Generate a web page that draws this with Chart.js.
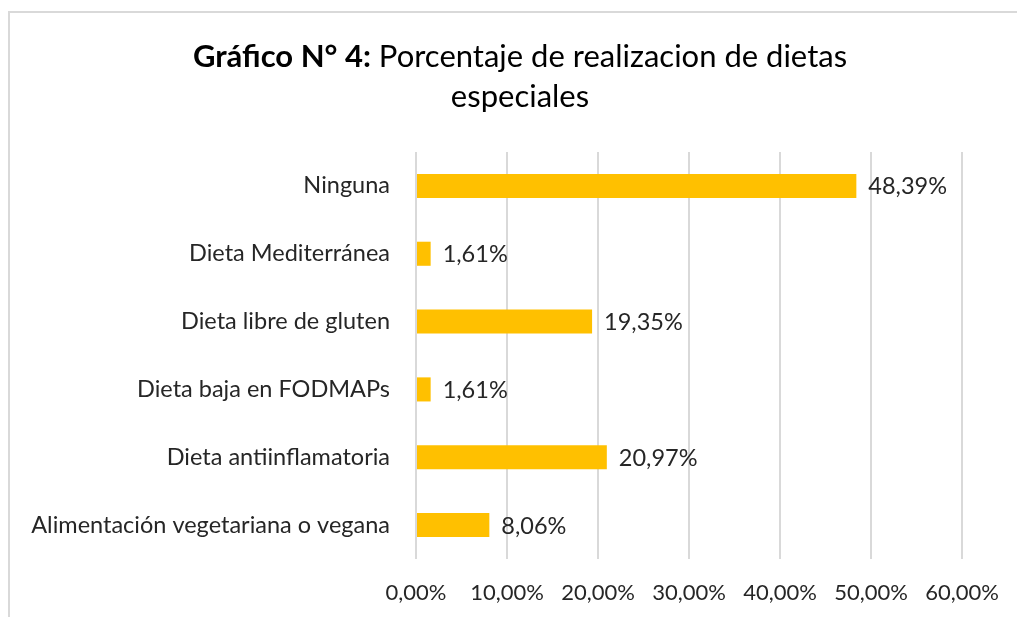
<!DOCTYPE html>
<html>
<head>
<meta charset="utf-8">
<script src="https://cdn.jsdelivr.net/npm/chart.js@4.4.0/dist/chart.umd.min.js"></script>
<style>
    body { margin: 0; background: #fff; overflow: hidden; }
    #wrap { position: relative; width: 1017px; height: 617px; }
</style>
</head>
<body>
<div id="wrap"><canvas id="dietChart" width="1017" height="617"></canvas></div>
<script>
// Data
const categories = [
    'Ninguna',
    'Dieta Mediterránea',
    'Dieta libre de gluten',
    'Dieta baja en FODMAPs',
    'Dieta antiinflamatoria',
    'Alimentación vegetariana o vegana'
];
const percentages = [48.39, 1.61, 19.35, 1.61, 20.97, 8.06];
const xTicks = [0, 10, 20, 30, 40, 50, 60];

const titleBold = 'Gráfico N° 4:';
const titleRest = ' Porcentaje de realizacion de dietas';
const titleLine2 = 'especiales';

const FONT = 'Lato, "Open Sans", sans-serif';
const TEXT_COLOR = '#262626';

function fmtPct(v) {
    return v.toFixed(2).replace('.', ',') + '%';
}

// Border around the chart + two-weight title
const frameAndTitle = {
    id: 'frameAndTitle',
    beforeDraw(chart) {
        const ctx = chart.ctx;
        ctx.save();
        ctx.strokeStyle = '#d9d9d9';
        ctx.lineWidth = 2;
        ctx.beginPath();
        ctx.moveTo(9, 640);
        ctx.lineTo(9, 12);
        ctx.lineTo(1040, 12);
        ctx.stroke();

        ctx.fillStyle = '#000';
        ctx.textBaseline = 'middle';
        ctx.textAlign = 'left';
        const size = 31;
        ctx.font = 'bold ' + size + 'px ' + FONT;
        const wBold = ctx.measureText(titleBold).width;
        ctx.font = size + 'px ' + FONT;
        const wRest = ctx.measureText(titleRest).width;
        const cx = 520;
        let x = cx - (wBold + wRest) / 2;
        ctx.font = 'bold ' + size + 'px ' + FONT;
        ctx.fillText(titleBold, x, 57);
        ctx.font = size + 'px ' + FONT;
        ctx.fillText(titleRest, x + wBold, 57);
        ctx.textAlign = 'center';
        ctx.fillText(titleLine2, cx, 97);
        ctx.restore();
    }
};

// Value labels at the end of each bar
const valueLabels = {
    id: 'valueLabels',
    afterDatasetsDraw(chart) {
        const ctx = chart.ctx;
        const meta = chart.getDatasetMeta(0);
        ctx.save();
        ctx.font = '23.5px ' + FONT;
        ctx.fillStyle = TEXT_COLOR;
        ctx.textAlign = 'left';
        ctx.textBaseline = 'middle';
        meta.data.forEach((bar, i) => {
            ctx.fillText(fmtPct(percentages[i]), bar.x + 12, bar.y + 1);
        });
        ctx.restore();
    }
};

new Chart(document.getElementById('dietChart'), {
    type: 'bar',
    data: {
        labels: categories,
        datasets: [{
            data: percentages,
            backgroundColor: '#FFC000',
            borderWidth: 0,
            categoryPercentage: 1,
            barPercentage: 0.355
        }]
    },
    options: {
        indexAxis: 'y',
        responsive: false,
        animation: false,
        layout: { padding: { left: 0, right: 55, top: 152, bottom: 0 } },
        plugins: {
            legend: { display: false },
            title: { display: false },
            tooltip: { enabled: false }
        },
        scales: {
            x: {
                min: 0,
                max: 60,
                afterBuildTicks(scale) {
                    scale.ticks = xTicks.map(v => ({ value: v }));
                },
                afterFit(scale) {
                    scale.height = 58;
                    scale.paddingLeft = 0;
                    scale.paddingRight = 0;
                },
                grid: { color: '#d9d9d9', lineWidth: 2, drawTicks: false },
                border: { display: false },
                ticks: {
                    padding: 21,
                    color: TEXT_COLOR,
                    font: { family: FONT, size: 22 },
                    callback: v => fmtPct(v),
                    maxRotation: 0
                }
            },
            y: {
                afterFit(scale) { scale.width = 416; },
                grid: { display: false, drawTicks: false },
                border: { display: false },
                ticks: {
                    padding: 26,
                    color: TEXT_COLOR,
                    font: { family: FONT, size: 23.5 }
                }
            }
        }
    },
    plugins: [frameAndTitle, valueLabels]
});
</script>
</body>
</html>
